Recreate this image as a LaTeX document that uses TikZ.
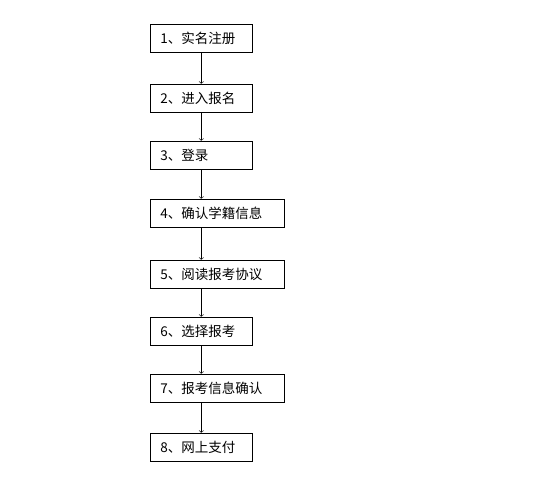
\documentclass[tikz,border=0pt]{standalone}
\usepackage{fontspec}
\setmainfont{Noto Sans CJK SC}
\usetikzlibrary{arrows.meta}
\tikzset{
   box/.style={draw, line width=0.6pt, anchor=west, minimum height=28pt,
      inner xsep=10pt, inner ysep=0pt, align=left,
      font=\fontsize{13.5}{15}\selectfont},
   shortbox/.style={box, text width=82pt},
   longbox/.style={box, text width=114pt},
   flow/.style={-{To[length=2.5pt,width=5pt]}, line width=0.5pt}
}
\begin{document}
\begin{tikzpicture}[x=1pt,y=-1pt]
   \useasboundingbox (0,0) rectangle (541,481);
   \node[shortbox] (s1) at (150,38)  {1、实名注册};
   \node[shortbox] (s2) at (150,98)  {2、进入报名};
   \node[shortbox] (s3) at (150,155) {3、登录};
   \node[longbox]  (s4) at (150,213) {4、确认学籍信息};
   \node[longbox]  (s5) at (150,274) {5、阅读报考协议};
   \node[shortbox] (s6) at (150,331) {6、选择报考};
   \node[longbox]  (s7) at (150,388) {7、报考信息确认};
   \node[shortbox] (s8) at (150,447) {8、网上支付};

   \draw[flow] (s1.south) -- (s2.north);
   \draw[flow] (s2.south) -- (s3.north);
   \draw[flow] (s3.south) -- (s1.south |- s4.north);
   \draw[flow] (s1.south |- s4.south) -- (s1.south |- s5.north);
   \draw[flow] (s1.south |- s5.south) -- (s6.north);
   \draw[flow] (s6.south) -- (s1.south |- s7.north);
   \draw[flow] (s1.south |- s7.south) -- (s8.north);
\end{tikzpicture}
\end{document}
